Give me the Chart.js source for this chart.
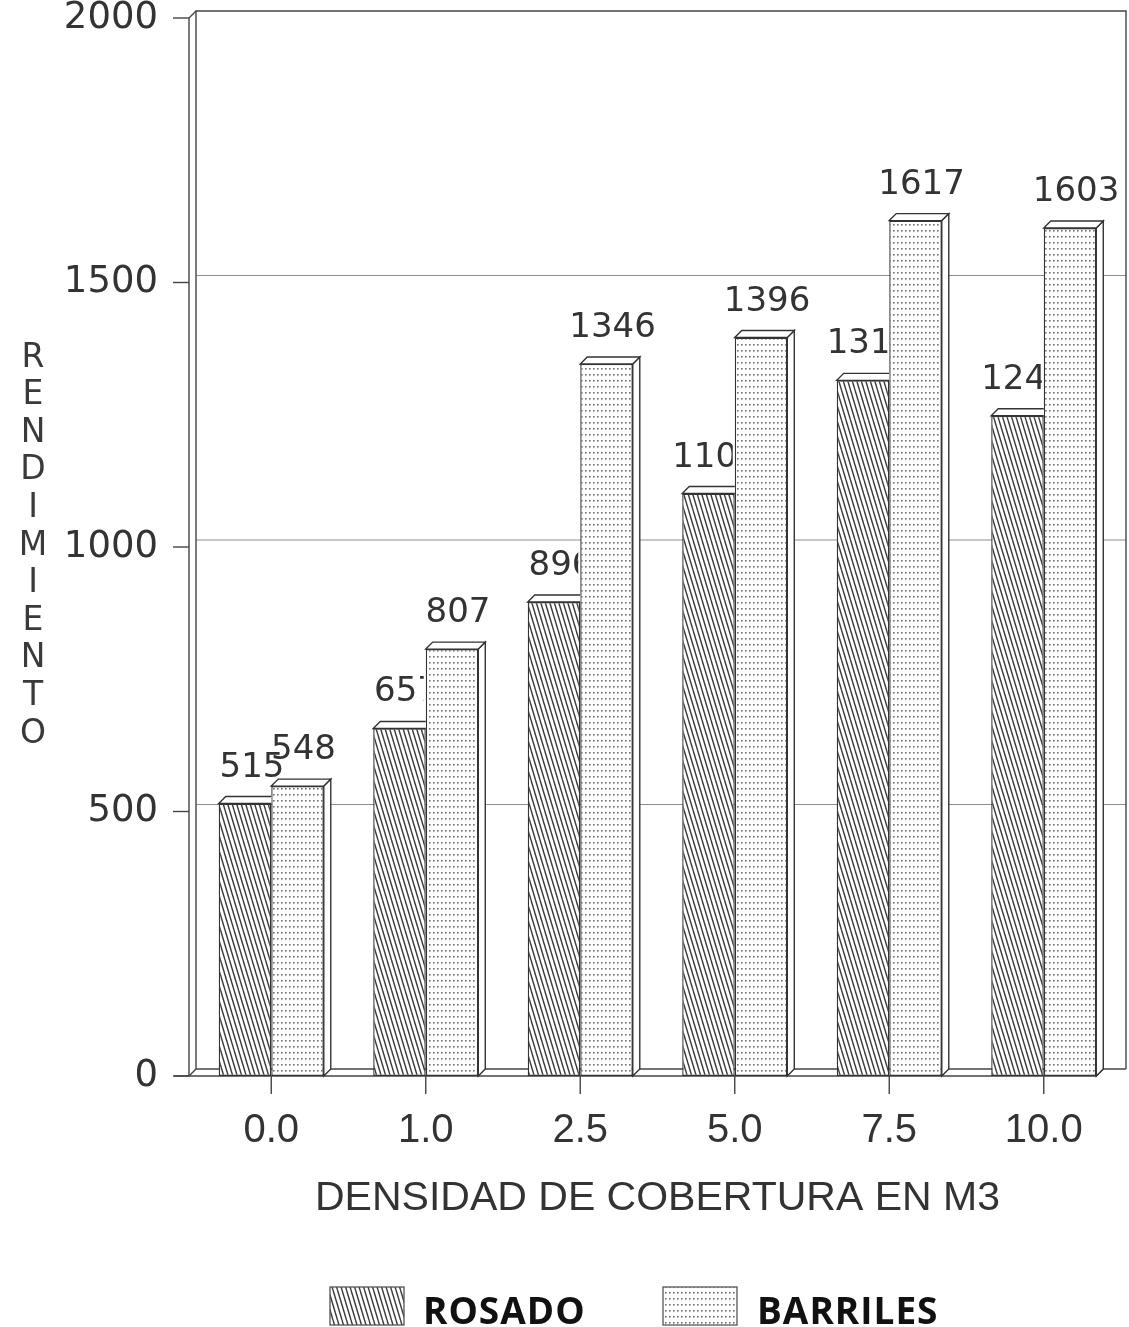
<!DOCTYPE html>
<html>
<head>
<meta charset="utf-8">
<script src="https://cdn.jsdelivr.net/npm/chart.js@4.4.1/dist/chart.umd.min.js"></script>
<style>
  html, body { margin: 0; padding: 0; background: #fff; }
  #wrap { width: 1129px; height: 1327px; }
</style>
</head>
<body>
<div id="wrap"><canvas id="c" width="1129" height="1327"></canvas></div>
<script>
// Yield by cover density (m3), two trial plots
const categories = ['0.0', '1.0', '2.5', '5.0', '7.5', '10.0'];
const rosado = [515, 657, 896, 1101, 1315, 1248];
const barriles = [548, 807, 1346, 1396, 1617, 1603];
const yTicks = [0, 500, 1000, 1500, 2000];
const seriesNames = ['ROSADO', 'BARRILES'];
const yTitle = 'RENDIMIENTO';
const xTitle = 'DENSIDAD DE COBERTURA EN M3';

const DEPTH = 7;          // 3D offset of the back wall / bar faces
const INK = '#333';

function makeHatch() {
  const t = document.createElement('canvas');
  t.width = 9; t.height = 30;
  const g = t.getContext('2d');
  g.fillStyle = '#fff'; g.fillRect(0, 0, 9, 30);
  g.strokeStyle = '#3a3a3a'; g.lineWidth = 1.4;
  for (let x = -18; x <= 18; x += 4.5) {
    g.beginPath(); g.moveTo(x, 0); g.lineTo(x + 9, 30); g.stroke();
  }
  return g.createPattern(t, 'repeat');
}
function makeDots() {
  const t = document.createElement('canvas');
  t.width = 4; t.height = 6;
  const g = t.getContext('2d');
  g.fillStyle = '#fff'; g.fillRect(0, 0, 4, 6);
  g.fillStyle = '#707070'; g.fillRect(1, 2, 1.6, 1.6);
  return g.createPattern(t, 'repeat');
}
const hatch = makeHatch();
const dots = makeDots();

function edges(el) {
  return { x0: el.x - el.width / 2, x1: el.x + el.width / 2, t: el.y, b: el.base };
}
function poly(ctx, pts, close) {
  ctx.beginPath();
  ctx.moveTo(pts[0][0], pts[0][1]);
  for (let i = 1; i < pts.length; i++) ctx.lineTo(pts[i][0], pts[i][1]);
  if (close) ctx.closePath();
}

// white page + box walls, grid, floor and tick marks
const framePlugin = {
  id: 'frame3d',
  beforeDraw(chart) {
    const ctx = chart.ctx;
    ctx.save();
    ctx.fillStyle = '#fff';
    ctx.fillRect(0, 0, chart.width, chart.height);
    ctx.restore();
  },
  beforeDatasetsDraw(chart) {
    const ctx = chart.ctx, ca = chart.chartArea;
    const ys = chart.scales.y, xs = chart.scales.x;
    const D = DEPTH;
    const L = ca.left - 5, BL = L + D, R = ca.right + 5;
    const yb = ys.getPixelForValue(0), yt = ys.getPixelForValue(2000);
    ctx.save();
    // back-wall grid lines
    ctx.strokeStyle = '#8c8c8c'; ctx.lineWidth = 1;
    yTicks.forEach(v => {
      if (v === 0 || v === 2000) return;
      const y = ys.getPixelForValue(v) - D;
      poly(ctx, [[BL, y], [R, y]]); ctx.stroke();
    });
    ctx.strokeStyle = '#444'; ctx.lineWidth = 1.4;
    // back wall outline
    poly(ctx, [[BL, yb - D], [BL, yt - D], [R, yt - D], [R, yb - D]]); ctx.stroke();
    poly(ctx, [[BL, yb - D], [R, yb - D]]); ctx.stroke();
    // left side wall
    poly(ctx, [[L, yb], [L, yt], [BL, yt - D]]); ctx.stroke();
    poly(ctx, [[L, yb], [BL, yb - D]]); ctx.stroke();
    // front floor edge
    const m1 = chart.getDatasetMeta(1);
    const last = edges(m1.data[m1.data.length - 1]);
    poly(ctx, [[L - 15, yb], [last.x1, yb], [last.x1 + D, yb - D]]); ctx.stroke();
    // y tick marks
    yTicks.forEach(v => {
      const y = ys.getPixelForValue(v);
      poly(ctx, [[L - 16, y], [L, y]]); ctx.stroke();
    });
    // x tick marks
    categories.forEach((c, i) => {
      const x = xs.getPixelForValue(i);
      poly(ctx, [[x, yb], [x, yb + 18]]); ctx.stroke();
    });
    ctx.restore();
  },
  beforeDatasetDraw(chart, args) {
    const ctx = chart.ctx, D = DEPTH;
    ctx.save();
    ctx.strokeStyle = INK; ctx.lineWidth = 1.4; ctx.fillStyle = '#fff';
    args.meta.data.forEach(el => {
      const { x0, x1, t, b } = edges(el);
      if (args.index === 1) {
        poly(ctx, [[x1, t], [x1 + D, t - D], [x1 + D, b - D], [x1, b]], true);
        ctx.fill(); ctx.stroke();
        poly(ctx, [[x0, t], [x0 + D, t - D], [x1 + D, t - D], [x1, t]], true);
        ctx.fill(); ctx.stroke();
      } else {
        poly(ctx, [[x1, t], [x0, t], [x0 + D, t - D], [x1, t - D]], true);
        ctx.fill();
        poly(ctx, [[x1, t], [x0, t], [x0 + D, t - D], [x1, t - D]], false);
        ctx.stroke();
      }
    });
    ctx.restore();
  }
};

// value labels; ROSADO labels sit behind the BARRILES bars
const labelPlugin = {
  id: 'valueLabels',
  afterDatasetsDraw(chart) {
    const ctx = chart.ctx, D = DEPTH;
    const m0 = chart.getDatasetMeta(0), m1 = chart.getDatasetMeta(1);
    ctx.save();
    ctx.font = '34px "DejaVu Sans"';
    ctx.fillStyle = INK;
    ctx.textAlign = 'center';
    ctx.textBaseline = 'alphabetic';
    m1.data.forEach((el, i) => {
      ctx.fillText(String(barriles[i]), el.x + 6, el.y - 27);
    });
    ctx.beginPath();
    ctx.rect(0, 0, chart.width, chart.height);
    m1.data.forEach(el => {
      const { x0, x1, t, b } = edges(el);
      const e = x0 - 2;
      ctx.moveTo(e, b); ctx.lineTo(e, t); ctx.lineTo(e + D, t - D);
      ctx.lineTo(x1 + D, t - D); ctx.lineTo(x1 + D, b - D); ctx.lineTo(x1, b);
      ctx.closePath();
    });
    ctx.clip('evenodd');
    m0.data.forEach((el, i) => {
      ctx.fillText(String(rosado[i]), el.x + 7, el.y - 27);
    });
    ctx.restore();
  },
  afterDraw(chart) {
    const ctx = chart.ctx;
    ctx.save();
    // stacked y-axis title
    ctx.font = '33px "DejaVu Sans"';
    ctx.fillStyle = '#3a3a3a';
    ctx.textAlign = 'center';
    ctx.textBaseline = 'middle';
    [...yTitle].forEach((ch, i) => ctx.fillText(ch, 33, 358 + i * 37.6));
    // legend
    const items = [
      { name: seriesNames[0], fill: hatch, bx: 330, tx: 423 },
      { name: seriesNames[1], fill: dots, bx: 663, tx: 757 }
    ];
    ctx.textAlign = 'left';
    ctx.textBaseline = 'alphabetic';
    ctx.font = 'bold 37px "Open Sans"';
    ctx.letterSpacing = '1px';
    items.forEach(it => {
      ctx.fillStyle = it.fill;
      ctx.fillRect(it.bx, 1287, 74, 38);
      ctx.strokeStyle = '#555'; ctx.lineWidth = 1.3;
      ctx.strokeRect(it.bx, 1287, 74, 38);
      ctx.fillStyle = '#111';
      ctx.fillText(it.name, it.tx, 1324);
    });
    ctx.restore();
  }
};

new Chart(document.getElementById('c'), {
  type: 'bar',
  data: {
    labels: categories,
    datasets: [
      { label: seriesNames[0], data: rosado, backgroundColor: hatch, borderColor: INK, borderWidth: 1.4, borderSkipped: false },
      { label: seriesNames[1], data: barriles, backgroundColor: dots, borderColor: INK, borderWidth: 1.4, borderSkipped: false }
    ]
  },
  options: {
    responsive: false,
    animation: false,
    devicePixelRatio: 1,
    datasets: { bar: { categoryPercentage: 0.68, barPercentage: 1.0 } },
    layout: { padding: { left: 0, right: 8, top: 18, bottom: 0 } },
    plugins: { legend: { display: false }, tooltip: { enabled: false } },
    scales: {
      x: {
        grid: { display: false, drawTicks: false },
        border: { display: false },
        ticks: { font: { family: 'Liberation Sans', size: 40 }, color: INK, padding: 31, maxRotation: 0 },
        title: { display: true, text: xTitle, color: INK, font: { family: 'Liberation Sans', size: 41 }, padding: { top: 0, bottom: 104 } },
        afterFit(s) { s.height = 251; s.paddingLeft = 0; s.paddingRight = 0; }
      },
      y: {
        min: 0, max: 2000,
        afterBuildTicks(s) { s.ticks = yTicks.map(v => ({ value: v })); },
        grid: { display: false, drawTicks: false },
        border: { display: false },
        ticks: {
          font: { family: 'DejaVu Sans', size: 37 }, color: INK, padding: 36,
          callback: v => String(v)
        },
        afterFit(s) { s.width = 194; s.paddingTop = 0; s.paddingBottom = 0; }
      }
    }
  },
  plugins: [framePlugin, labelPlugin]
});
</script>
</body>
</html>
